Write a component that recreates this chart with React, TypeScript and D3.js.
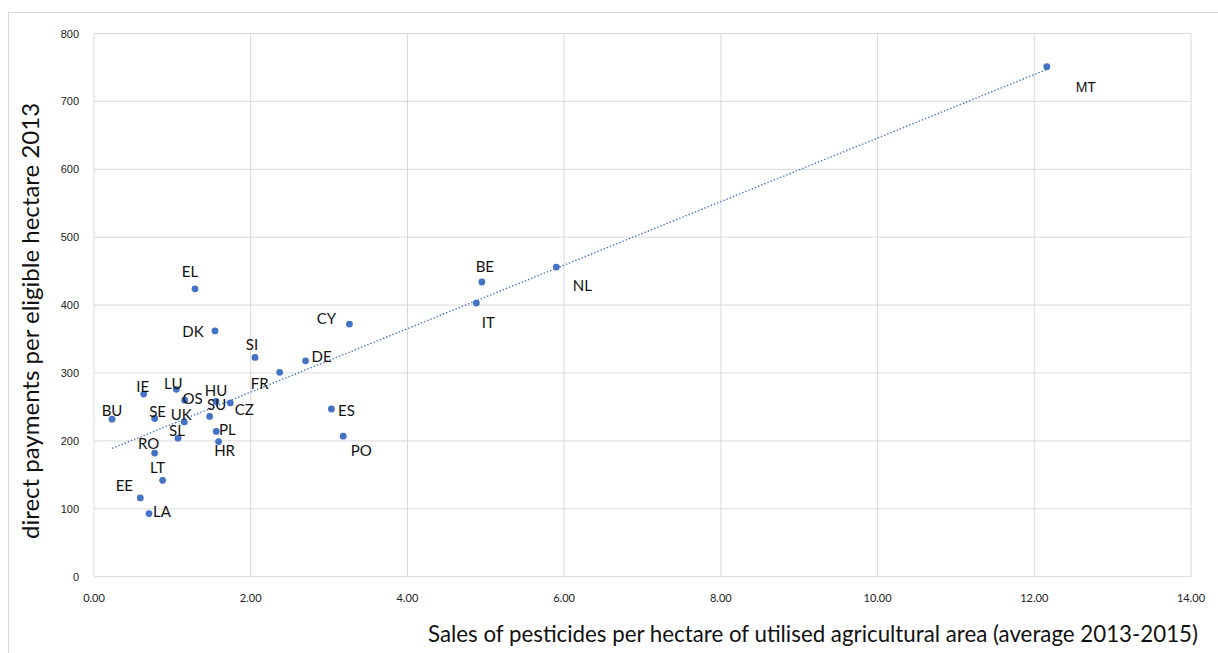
import React from "react";
import * as d3 from "d3";

const countries = ["MT","NL","BE","IT","CY","PO","ES","DE","FR","SI","CZ","HR","PL","HU","DK","SU","EL","OS","UK","SL","LU","LT","RO","SE","IE","LA","EE","BU"];
const pesticides = [12.16,5.90,4.95,4.88,3.26,3.18,3.03,2.70,2.37,2.055,1.74,1.59,1.56,1.557,1.544,1.476,1.289,1.157,1.152,1.072,1.05,0.876,0.774,0.774,0.634,0.702,0.591,0.23];
const payments = [751,456,434,403,372,207,247,318,301,323,256,199,214,258,362,236,424,260,228,204,276,142,182,233,269,93,116,232];
const xTicks = [0,2,4,6,8,10,12,14];
const yTicks = [0,100,200,300,400,500,600,700,800];

// label placement (dx, dy from dot to text centre / baseline)
const labelOffsets: Record<string, [number, number]> = {
  MT: [39, 25], NL: [26, 24], BE: [3, -10], IT: [12, 25], CY: [-23, 0], PO: [18, 20],
  ES: [15, 7], DE: [16, 1], FR: [-20, 17], SI: [-3, -7], CZ: [14, 12], HR: [6, 14],
  PL: [11, 4], HU: [0, -6], DK: [-22, 6], SU: [7, -6], EL: [-5, -12], OS: [8, 4],
  UK: [-3, -2], SL: [-1, -2], LU: [-3, 0], LT: [-5, -7], RO: [-6, -4], SE: [3, -1],
  IE: [-1, -2], LA: [13, 3], EE: [-16, -7], BU: [0, -3],
};

const W = 1218, H = 653;
const left = 94, right = 1191, top = 33.5, bottom = 576.7;
const blue = "#4472C4";
const grid = "#d9d9d9";

export default function App() {
  const x = d3.scaleLinear().domain([0, 14]).range([left, right]);
  const y = d3.scaleLinear().domain([0, 800]).range([bottom, top]);

  const mx = d3.mean(pesticides)!;
  const my = d3.mean(payments)!;
  let sxy = 0, sxx = 0;
  pesticides.forEach((v, i) => { sxy += (v - mx) * (payments[i] - my); sxx += (v - mx) * (v - mx); });
  const slope = sxy / sxx;
  const intercept = my - slope * mx;
  const [x0, x1] = d3.extent(pesticides) as [number, number];
  const trend = d3.line<number>().x((d) => x(d)).y((d) => y(intercept + slope * d))([x0, x1]) || "";

  return (
    <svg width={W} height={H} style={{ position: "absolute", left: 0, top: 0, background: "#fff" }}>
      <rect x={0} y={0} width={W} height={H} fill="#fff" />
      <rect x={8.5} y={12.5} width={1240} height={700} fill="none" stroke={grid} strokeWidth={1} />
      {xTicks.map((t) => (
        <line key={"gx" + t} x1={x(t)} x2={x(t)} y1={top} y2={bottom} stroke={grid} strokeWidth={1} />
      ))}
      {yTicks.map((t) => (
        <line key={"gy" + t} x1={left} x2={right} y1={y(t)} y2={y(t)} stroke={grid} strokeWidth={1} />
      ))}
      {yTicks.map((t) => (
        <text key={"ty" + t} x={79} y={y(t) + 4} textAnchor="end" fontFamily="Liberation Sans, Arial, sans-serif" fontSize={11} fill="#222">{t}</text>
      ))}
      {xTicks.map((t) => (
        <text key={"tx" + t} x={x(t)} y={601.5} textAnchor="middle" fontFamily="Lato, sans-serif" fontSize={11} fill="#222">{t.toFixed(2)}</text>
      ))}
      <path d={trend} fill="none" stroke={blue} strokeWidth={1.4} strokeDasharray="1.4 2" />
      {countries.map((c, i) => (
        <circle key={"p" + c} cx={x(pesticides[i])} cy={y(payments[i])} r={3.4} fill={blue} />
      ))}
      {countries.map((c, i) => {
        const [dx, dy] = labelOffsets[c];
        return (
          <text key={"l" + c} x={x(pesticides[i]) + dx} y={y(payments[i]) + dy} textAnchor="middle"
            fontFamily={c === "MT" ? "Liberation Sans, Arial, sans-serif" : "Lato, sans-serif"} fontSize={c === "MT" ? 14 : 15} fill="#111">{c}</text>
        );
      })}
      <text x={1198} y={642} textAnchor="end" fontFamily="Lato, sans-serif" fontSize={22.3} fill="#111">
        Sales of pesticides per hectare of utilised agricultural area (average 2013-2015)
      </text>
      <text transform="translate(39,321) rotate(-90)" textAnchor="middle" fontFamily="Lato, sans-serif" fontSize={24} fill="#111">
        direct payments per eligible hectare 2013
      </text>
    </svg>
  );
}
